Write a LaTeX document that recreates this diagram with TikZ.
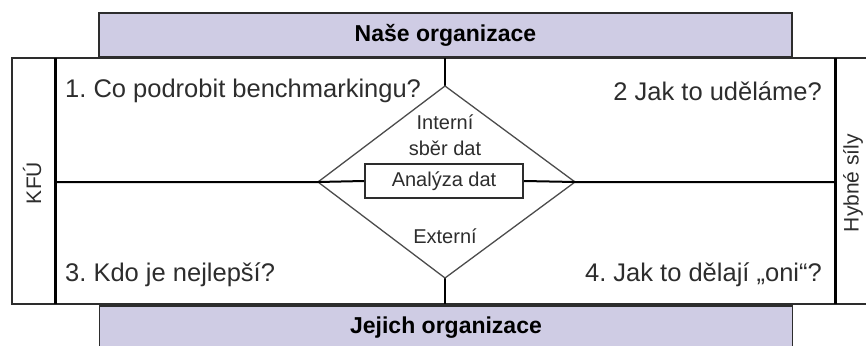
\documentclass[tikz,border=0pt]{standalone}
\usepackage{fontspec}
\setmainfont{Liberation Sans}
\usetikzlibrary{positioning}

\definecolor{bandfill}{RGB}{207,204,228}
\definecolor{inkgray}{RGB}{45,45,45}
\frenchspacing

\begin{document}
\begin{tikzpicture}[x=1pt,y=-1pt,
    band/.style={draw=inkgray, line width=1.5pt, fill=bandfill, minimum width=693pt, minimum height=44pt, inner sep=0pt, font=\fontsize{23}{27}\selectfont\bfseries},
    quad/.style={inner sep=0pt, text=inkgray, font=\fontsize{25.5}{30}\selectfont},
    small/.style={inner sep=0pt, text=inkgray, font=\fontsize{20}{24}\selectfont},
    side/.style={inner sep=0pt, rotate=90, text=inkgray, font=\fontsize{21}{25}\selectfont},
    frame/.style={draw=inkgray, line width=2pt},
    divider/.style={draw=black, line width=3pt},
    diam/.style={draw=black!70, line width=1.3pt}]
    \useasboundingbox (0,0) rectangle (866,345);
    \clip (0,0) rectangle (866,345);
    % bands top and bottom
    \node[band] (nase) at (445.5,35) {Naše organizace};
    \node[band] (jejich) at (446,328) {Jejich organizace};
    % outer frame, cut at the right
    \draw[frame] (12,58) rectangle (900,304);
    \coordinate (lefttop) at (55,58);
    \coordinate (leftbot) at (55,304);
    \coordinate (righttop) at (835,58);
    \coordinate (rightbot) at (835,304);
    \draw[divider] (lefttop) -- (leftbot);
    \draw[divider] (righttop) -- (rightbot);
    \node[side] (kfu) at (32,183) {KFÚ};
    \node[side] (hybne) at (853,183) {Hybné síly};
    % diamond
    \coordinate (dtop) at (445,86);
    \coordinate (dleft) at (318,182);
    \coordinate (dright) at (575,182);
    \coordinate (dbot) at (445,278);
    \coordinate (midL) at (55,182);
    \coordinate (midR) at (835,182);
    \coordinate (topC) at (445,58);
    \coordinate (botC) at (445,304);
    \draw[line width=2.5pt] (topC) -- (dtop);
    \draw[line width=2.5pt] (dbot) -- (botC);
    \draw[diam] (dtop) -- (dright) -- (dbot) -- (dleft) -- cycle;
    \node[draw=inkgray, line width=2pt, fill=white, minimum width=158pt, minimum height=34pt, inner sep=0pt,
          font=\fontsize{20}{24}\selectfont, text=inkgray] (analyza) at (444,181) {Analýza dat};
    \draw[line width=2pt] (midL) -- (dleft) -- (analyza.west);
    \draw[line width=2pt] (analyza.east) -- (dright) -- (midR);
    \node[small] (interni) at (445,122) {Interní};
    \node[small] (sber) at (445,148) {sběr dat};
    \node[small] (externi) at (445,236) {Externí};
    % quadrant questions
    \node[quad, anchor=west] (q1) at (65,91) {1. Co podrobit benchmarkingu?};
    \node[quad, anchor=east] (q2) at (822,91) {2 Jak to uděláme?};
    \node[quad, anchor=west] (q3) at (65,275) {3. Kdo je nejlepší?};
    \node[quad, anchor=east] (q4) at (822,275) {4. Jak to dělají „oni“?};
\end{tikzpicture}
\end{document}
